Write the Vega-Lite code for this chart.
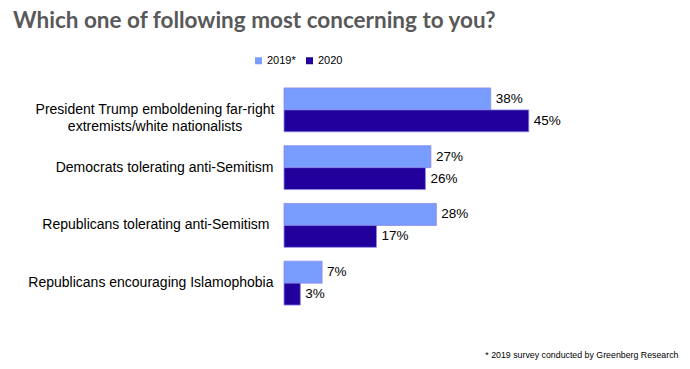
{
  "$schema": "https://vega.github.io/schema/vega-lite/v6.json",
  "autosize": "none",
  "width": 272,
  "height": 231,
  "padding": {"left": 284, "top": 81, "right": 134, "bottom": 57},
  "background": "white",
  "view": {"stroke": null},
  "title": {
    "text": "Which one of following most concerning to you?",
    "anchor": "start",
    "frame": "group",
    "dx": -271,
    "font": "Lato",
    "fontSize": 22.5,
    "fontWeight": "bold",
    "color": "#595959",
    "baseline": "alphabetic",
    "offset": 5
  },
  "data": {
    "values": [
      {"item": "President Trump emboldening far-right|extremists/white nationalists", "year": "2019*", "value": 0.38},
      {"item": "President Trump emboldening far-right|extremists/white nationalists", "year": "2020", "value": 0.45},
      {"item": "Democrats tolerating anti-Semitism", "year": "2019*", "value": 0.27},
      {"item": "Democrats tolerating anti-Semitism", "year": "2020", "value": 0.26},
      {"item": "Republicans tolerating anti-Semitism ", "year": "2019*", "value": 0.28},
      {"item": "Republicans tolerating anti-Semitism ", "year": "2020", "value": 0.17},
      {"item": "Republicans encouraging Islamophobia", "year": "2019*", "value": 0.07},
      {"item": "Republicans encouraging Islamophobia", "year": "2020", "value": 0.03}
    ]
  },
  "encoding": {
    "y": {
      "field": "item",
      "type": "nominal",
      "sort": null,
      "scale": {"paddingInner": 0.24, "paddingOuter": 0.12},
      "axis": {
        "title": null,
        "domain": false,
        "ticks": false,
        "labelAlign": {
          "condition": {"test": "indexof(datum.value, '|') >= 0", "value": "center"},
          "value": "right"
        },
        "labelPadding": {
          "condition": [
            {"test": "indexof(datum.value, '|') >= 0", "value": 129.5},
            {"test": "indexof(datum.value, 'Republicans tolerating') >= 0", "value": 15}
          ],
          "value": 11
        },
        "labelFont": "Liberation Sans",
        "labelFontSize": 14,
        "labelColor": "#000000",
        "labelExpr": "split(datum.label, '|')",
        "labelLineHeight": 17,
        "labelLimit": 300
      }
    },
    "yOffset": {
      "field": "year",
      "type": "nominal",
      "sort": ["2019*", "2020"],
      "scale": {"paddingInner": 0, "paddingOuter": 0}
    },
    "x": {
      "field": "value",
      "type": "quantitative",
      "scale": {"domain": [0, 0.5]},
      "axis": {
        "grid": false,
        "domain": false,
        "ticks": false,
        "labels": false,
        "title": "* 2019 survey conducted by Greenberg Research",
        "titleFont": "Liberation Sans",
        "titleFontSize": 8.8,
        "titleFontWeight": "normal",
        "titleColor": "#000000",
        "titleAlign": "right",
        "titleAnchor": "end",
        "titleX": 394,
        "titleY": 45,
        "titleBaseline": "alphabetic"
      }
    }
  },
  "layer": [
    {
      "mark": {"type": "bar", "stroke": "#8a8ae6", "strokeWidth": 0.8},
      "encoding": {
        "color": {
          "field": "year",
          "type": "nominal",
          "scale": {"domain": ["2019*", "2020"], "range": ["#799cff", "#21009c"]},
          "legend": {
            "title": null,
            "orient": "none",
            "direction": "horizontal",
            "legendX": -31,
            "legendY": -26,
            "symbolType": "square",
            "symbolSize": 49,
            "symbolStrokeWidth": 0,
            "labelFont": "Liberation Sans",
            "labelFontSize": 11,
            "labelColor": "#000000",
            "labelOffset": 3,
            "columnPadding": 8
          }
        }
      }
    },
    {
      "mark": {"type": "text", "align": "left", "dx": 5, "font": "Liberation Sans", "fontSize": 13.5, "color": "#000000"},
      "encoding": {
        "text": {"field": "value", "type": "quantitative", "format": ".0%"}
      }
    }
  ]
}
